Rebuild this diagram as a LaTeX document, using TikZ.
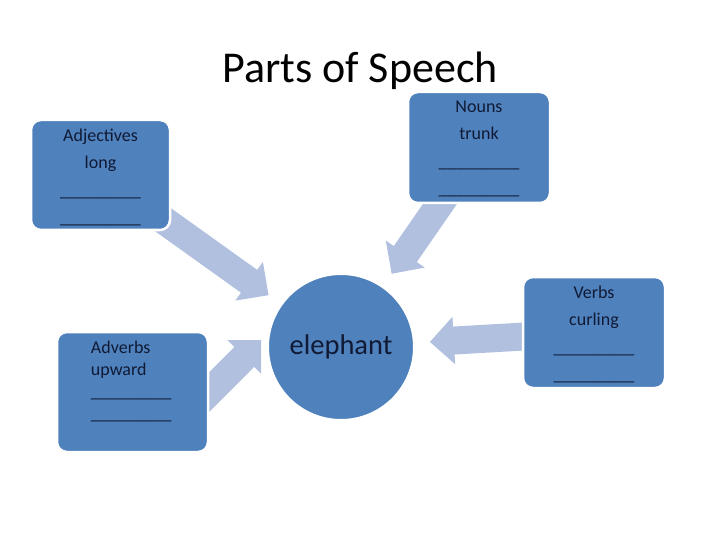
\documentclass[tikz,border=0pt]{standalone}
\usepackage{fontspec}
\setmainfont{Carlito}
\usepackage{tikz}
\usetikzlibrary{positioning,calc,arrows.meta,backgrounds}
\definecolor{boxblue}{RGB}{79,129,189}
\definecolor{arrowblue}{RGB}{176,192,222}
\definecolor{textnavy}{RGB}{16,26,52}

\begin{document}
\begin{tikzpicture}[x=1pt, y=-1pt,
  wordbox/.style={draw=white, line width=2.5pt, fill=boxblue, rounded corners=10pt},
  boxtext/.style={inner sep=0pt, text=textnavy, align=center,
                  font=\fontsize{18}{27.5}\selectfont},
  blockarrow/.style={arrowblue, line width=28pt, -{Triangle[length=24pt,width=46pt]}}
]
\useasboundingbox (0,0) rectangle (720,540);

% Title
\node (title) at (360,71) {\fontsize{44}{50}\selectfont Parts of Speech};

% Word boxes
\node[wordbox, minimum width=139pt, minimum height=110pt] (adj)  at (100.5,175)   {};
\node[wordbox, minimum width=142pt, minimum height=111pt] (noun) at (479,147.5)   {};
\node[wordbox, minimum width=142pt, minimum height=111pt] (verb) at (594,332.5)   {};
\node[wordbox, minimum width=151pt, minimum height=120pt] (adv)  at (132.5,392)   {};

% Centre word
\node[circle, draw=white, line width=2pt, fill=boxblue, minimum size=146pt,
      text=textnavy, font=\fontsize{28.5}{30}\selectfont] (ele) at (341,347) {elephant};

% Box texts
\node[boxtext, below=10pt of adj.north]  (adjtxt)  {Adjectives\\long\\\_\_\_\_\_\_\_\_\_\\\_\_\_\_\_\_\_\_\_};
\node[boxtext, below=10pt of noun.north] (nountxt) {Nouns\\trunk\\\_\_\_\_\_\_\_\_\_\\\_\_\_\_\_\_\_\_\_};
\node[boxtext, below=10pt of verb.north] (verbtxt) {Verbs\\curling\\\_\_\_\_\_\_\_\_\_\\\_\_\_\_\_\_\_\_\_};
\node[boxtext, align=left, font=\fontsize{18}{22}\selectfont,
      below right=10.5pt and 35pt of adv.north west] (advtxt)
      {Adverbs\\upward\\\_\_\_\_\_\_\_\_\_\\\_\_\_\_\_\_\_\_\_};

% Block arrows into the centre
\begin{scope}[on background layer]
\draw[blockarrow, shorten >=15pt] (adj.center)  -- (ele);
\draw[blockarrow, shorten >=15pt] (noun.center) -- (ele);
\draw[blockarrow, shorten >=15pt] (verb.center) -- (ele);
\draw[blockarrow] ($(adv.east)+(-12,12)$) -- ($(adv.east)+(52,-52)$);
\end{scope}

\end{tikzpicture}
\end{document}
